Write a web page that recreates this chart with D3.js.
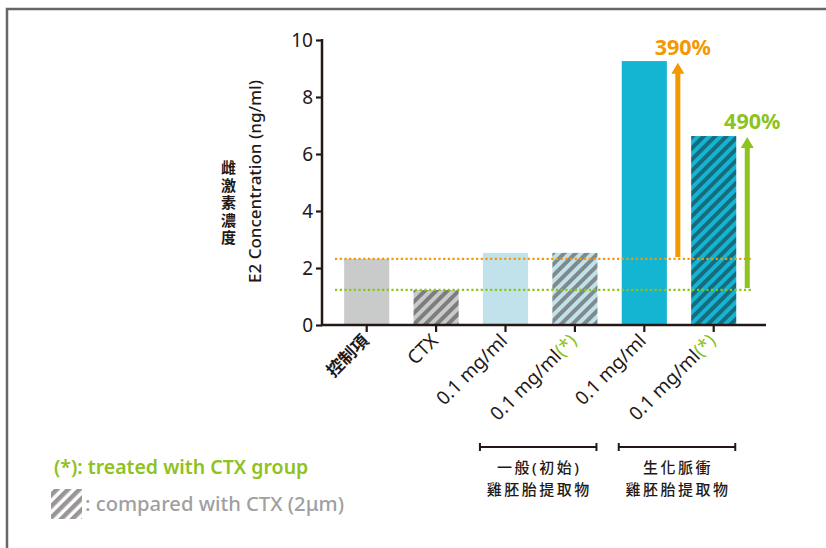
<!DOCTYPE html>
<html>
<head>
<meta charset="utf-8">
<script src="https://cdn.jsdelivr.net/npm/d3@7"></script>
<style>
  body { margin: 0; background: #fff; }
  text { font-family: "Noto Sans", "Noto Sans CJK TC", sans-serif; }
</style>
</head>
<body>
<script>
// --- data ---
const categories = ["控制項", "CTX", "0.1 mg/ml", "0.1 mg/ml(*)", "0.1 mg/ml ", "0.1 mg/ml(*) "];
const values = [2.32, 1.23, 2.53, 2.53, 9.26, 6.63];
const yTicks = [0, 2, 4, 6, 8, 10];
const refLines = [{value: 2.32, color: "#f39800"}, {value: 1.23, color: "#8dc21f"}];
const increases = [
  {from: 2.32, to: 9.2, at: 4, label: "390%", color: "#f39800"},
  {from: 1.23, to: 6.6, at: 5, label: "490%", color: "#8dc21f"}
];
const groups = [
  {first: 2, last: 3, lines: ["一般(初始)", "雞胚胎提取物"]},
  {first: 4, last: 5, lines: ["生化脈衝", "雞胚胎提取物"]}
];

// fills per bar: base colour + stripe colour (null = solid)
const fills = [
  {base: "#c9caca", stripe: null},
  {base: "#c9caca", stripe: "#7d7d7d"},
  {base: "#c1e2ea", stripe: null},
  {base: "#c1e2ea", stripe: "#7f8a8c"},
  {base: "#13b5d3", stripe: null},
  {base: "#13b5d3", stripe: "#176b7c"}
];

const W = 826, H = 548;
const svg = d3.select("body").append("svg")
  .attr("width", W).attr("height", H);

// frame (top + left only)
svg.append("path")
  .attr("d", `M7,${H} L7,9 L${W},9`)
  .attr("fill", "none").attr("stroke", "#666").attr("stroke-width", 2.5);

const defs = svg.append("defs");
fills.forEach((f, i) => {
  if (!f.stripe) return;
  const p = defs.append("pattern")
    .attr("id", "hatch" + i)
    .attr("patternUnits", "userSpaceOnUse")
    .attr("width", 8).attr("height", 8)
    .attr("patternTransform", "rotate(45)");
  p.append("rect").attr("width", 8).attr("height", 8).attr("fill", f.base);
  p.append("rect").attr("width", 4).attr("height", 8).attr("fill", f.stripe);
});

// --- scales ---
const x = d3.scaleBand()
  .domain(categories)
  .range([332, 748.4])
  .paddingInner(0.35)
  .paddingOuter(0.175);

const y = d3.scaleLinear().domain([0, 10]).range([325, 40]);

const axisColor = "#231815";

// bars
svg.selectAll(".bar")
  .data(categories)
  .enter()
  .append("rect")
    .attr("class", "bar")
    .attr("x", d => x(d))
    .attr("y", (d, i) => y(values[i]))
    .attr("width", x.bandwidth())
    .attr("height", (d, i) => y(0) - y(values[i]))
    .attr("fill", (d, i) => fills[i].stripe ? `url(#hatch${i})` : fills[i].base);

// reference dotted lines
svg.selectAll(".ref")
  .data(refLines)
  .enter()
  .append("line")
    .attr("x1", 335).attr("x2", 753)
    .attr("y1", d => y(d.value)).attr("y2", d => y(d.value))
    .attr("stroke", d => d.color)
    .attr("stroke-width", 2.2)
    .attr("stroke-dasharray", "2.2 2.5");

// y axis
const yAxis = svg.append("g")
  .attr("transform", "translate(322,0)")
  .call(d3.axisLeft(y).tickValues(yTicks).tickSize(6).tickPadding(3).tickFormat(d3.format("d")));
yAxis.select(".domain").remove();
yAxis.selectAll("line").attr("stroke", axisColor).attr("stroke-width", 2.2);
yAxis.selectAll("text")
  .attr("fill", axisColor)
  .style("font-size", "19px");
svg.append("line")
  .attr("x1", 322).attr("x2", 322)
  .attr("y1", y(10) - 1).attr("y2", y(0) + 1)
  .attr("stroke", axisColor).attr("stroke-width", 2.5);

// x axis
svg.append("line")
  .attr("x1", 321).attr("x2", 766)
  .attr("y1", y(0)).attr("y2", y(0))
  .attr("stroke", axisColor).attr("stroke-width", 2.5);
svg.selectAll(".xtick")
  .data(categories)
  .enter()
  .append("line")
    .attr("x1", d => x(d) + x.bandwidth() / 2)
    .attr("x2", d => x(d) + x.bandwidth() / 2)
    .attr("y1", y(0)).attr("y2", y(0) + 7)
    .attr("stroke", axisColor).attr("stroke-width", 2.2);

// x labels (rotated -45)
const xl = svg.selectAll(".xlab")
  .data(categories)
  .enter()
  .append("text")
    .attr("transform", d => `translate(${x(d) + x.bandwidth() / 2 + 3},${y(0) + 17}) rotate(-45)`)
    .attr("text-anchor", "end")
    .attr("fill", axisColor)
    .style("font-size", "19px");
xl.each(function(d) {
  const t = d3.select(this);
  const base = d.trim().replace("(*)", "");
  t.append("tspan").text(base).style("font-weight", base === "控制項" ? 700 : 400)
    .style("font-size", base === "控制項" ? "17px" : "19px");
  if (d.includes("(*)")) t.append("tspan").attr("fill", "#8dc21f").text("(*)");
});

// y titles
svg.append("text")
  .attr("transform", `translate(261,${(y(0) + y(10)) / 2 - 1}) rotate(-90)`)
  .attr("text-anchor", "middle")
  .attr("fill", axisColor)
  .style("font-size", "17px")
  .style("font-weight", 500)
  .text("E2 Concentration (ng/ml)");
// Chinese title, stacked vertically as one text
svg.append("text")
  .attr("x", 228).attr("y", 160)
  .attr("fill", axisColor)
  .style("writing-mode", "vertical-rl")
  .style("text-orientation", "upright")
  .style("font-size", "15px")
  .style("font-weight", 700)
  .style("letter-spacing", "2.5px")
  .text("雌激素濃度");

// increase arrows
increases.forEach(a => {
  const cx = x(categories[a.at]) + x.bandwidth() + 11;
  const g = svg.append("g");
  g.append("line")
    .attr("x1", cx).attr("x2", cx)
    .attr("y1", y(a.from) - 2).attr("y2", y(a.to) + 8)
    .attr("stroke", a.color).attr("stroke-width", 5);
  g.append("path")
    .attr("d", `M${cx - 6.5},${y(a.to) + 11} L${cx},${y(a.to)} L${cx + 6.5},${y(a.to) + 11} Z`)
    .attr("fill", a.color);
  g.append("text")
    .attr("x", cx + 5).attr("y", y(a.to) - 8)
    .attr("text-anchor", "middle")
    .attr("fill", a.color)
    .style("font-size", "21.5px")
    .style("font-weight", 700)
    .text(a.label);
});

// group brackets
groups.forEach(gr => {
  const x1 = x(categories[gr.first]) - 3;
  const x2 = x(categories[gr.last]) + x.bandwidth() - 1;
  const by = 447;
  const g = svg.append("g").attr("stroke", axisColor).attr("stroke-width", 2);
  g.append("line").attr("x1", x1).attr("x2", x2).attr("y1", by).attr("y2", by);
  g.append("line").attr("x1", x1).attr("x2", x1).attr("y1", by - 4).attr("y2", by + 4);
  g.append("line").attr("x1", x2).attr("x2", x2).attr("y1", by - 4).attr("y2", by + 4);
  const t = svg.append("text")
    .attr("y", 473)
    .attr("text-anchor", "middle")
    .attr("fill", axisColor)
    .style("font-size", "15px")
    .style("font-weight", 500)
    .style("letter-spacing", "2.5px");
  gr.lines.forEach((ln, i) => {
    t.append("tspan")
      .attr("x", (x1 + x2) / 2 + 1)
      .attr("dy", i === 0 ? 0 : 22)
      .text(ln);
  });
});

// legend
svg.append("text")
  .attr("x", 54).attr("y", 474)
  .attr("fill", "#8dc21f")
  .style("font-size", "19.5px")
  .style("font-weight", 600)
  .text("(*): treated with CTX group");
const lp = defs.append("pattern")
  .attr("id", "legendHatch")
  .attr("patternUnits", "userSpaceOnUse")
  .attr("width", 8).attr("height", 8)
  .attr("patternTransform", "rotate(45)");
lp.append("rect").attr("width", 8).attr("height", 8).attr("fill", "#fff");
lp.append("rect").attr("width", 4.5).attr("height", 8).attr("fill", "#9a9696");
svg.append("rect")
  .attr("x", 51).attr("y", 489).attr("width", 31).attr("height", 30)
  .attr("fill", "url(#legendHatch)");
svg.append("text")
  .attr("x", 85).attr("y", 511)
  .attr("fill", "#9fa0a0")
  .style("font-size", "20.2px")
  .style("font-weight", 500)
  .text(": compared with CTX (2μm)");
</script>
</body>
</html>
